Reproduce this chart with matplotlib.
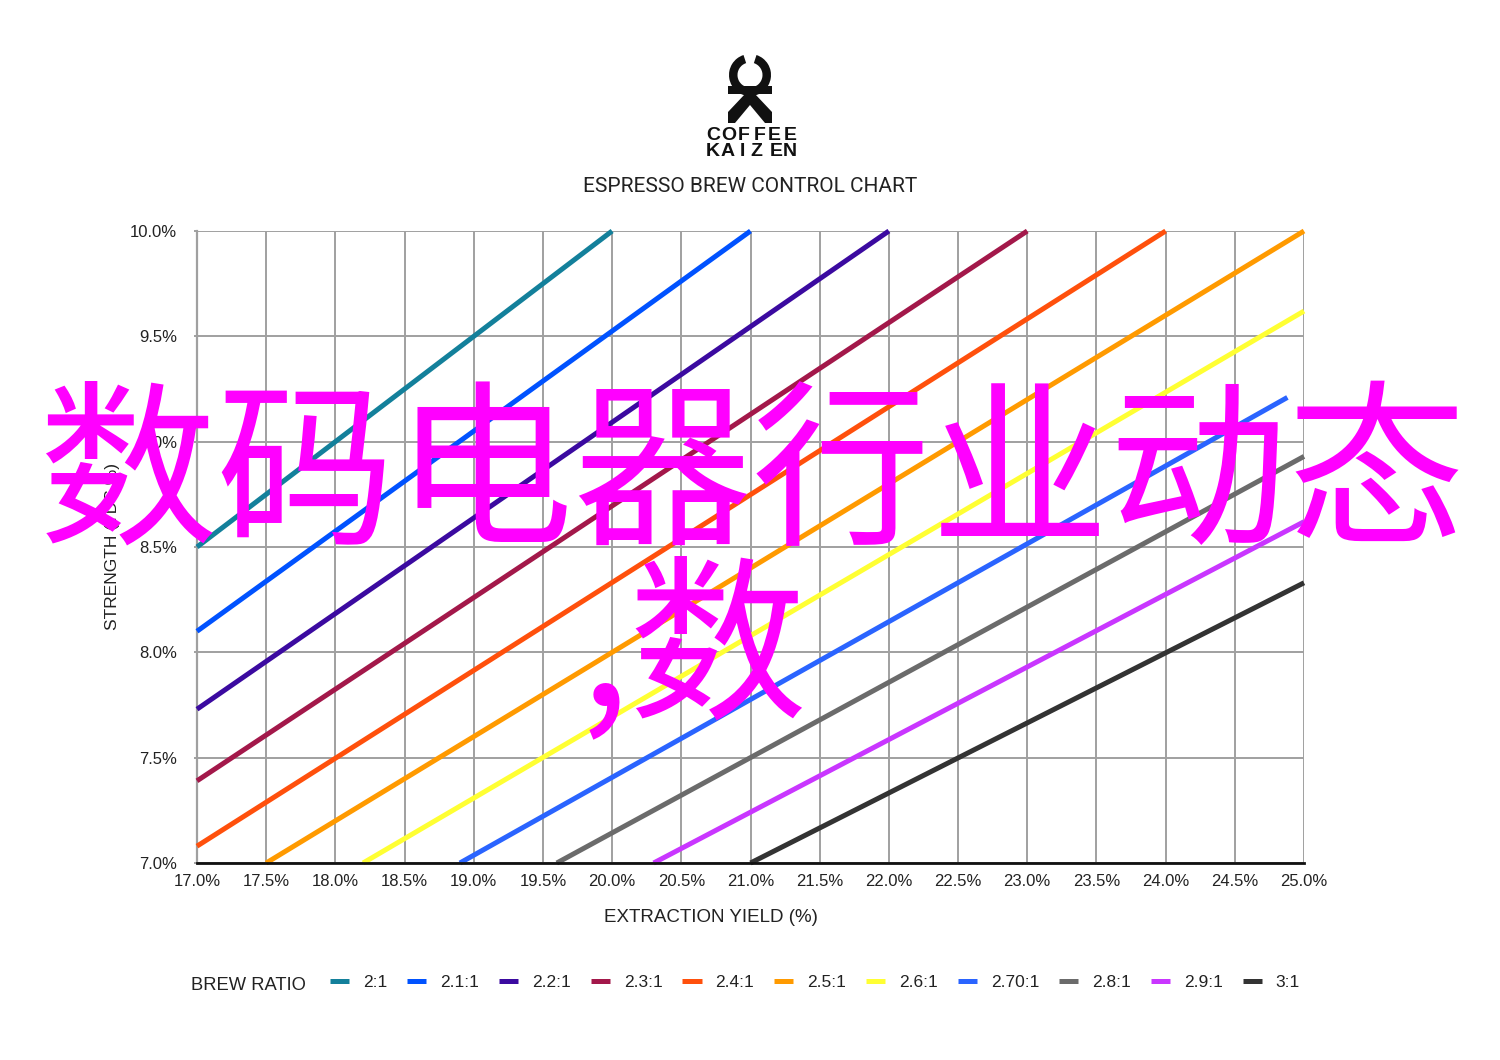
import matplotlib
matplotlib.use("Agg")
import matplotlib.pyplot as plt
from matplotlib.patches import Wedge, Rectangle, Polygon
from matplotlib.lines import Line2D

# ---------------- data ----------------
ratios = ["2:1", "2.1:1", "2.2:1", "2.3:1", "2.4:1", "2.5:1", "2.6:1", "2.70:1", "2.8:1", "2.9:1", "3:1"]
yield_start = [17.0, 17.0, 17.0, 17.0, 17.0, 17.5, 18.2, 18.9, 19.6, 20.3, 21.0]
strength_start = [8.50, 8.10, 7.73, 7.39, 7.08, 7.00, 7.00, 7.00, 7.00, 7.00, 7.00]
yield_end = [20.0, 21.0, 22.0, 23.0, 24.0, 25.0, 25.0, 24.88, 25.0, 25.0, 25.0]
strength_end = [10.0, 10.0, 10.0, 10.0, 10.0, 10.0, 9.62, 9.21, 8.93, 8.62, 8.33]
colors = ["#13809b", "#0052ff", "#3b0aa0", "#a3184a", "#ff500c", "#ff9a00",
          "#ffff33", "#2a64ff", "#6b6b6b", "#c936ff", "#333333"]
x_ticks = [17.0, 17.5, 18.0, 18.5, 19.0, 19.5, 20.0, 20.5, 21.0, 21.5, 22.0,
           22.5, 23.0, 23.5, 24.0, 24.5, 25.0]
y_ticks = [7.0, 7.5, 8.0, 8.5, 9.0, 9.5, 10.0]

title = "ESPRESSO BREW CONTROL CHART"
overlay_line1 = "数码电器行业动态"
overlay_line2 = ",数"

# ---------------- figure ----------------
W, H = 1500, 1060
fig = plt.figure(figsize=(W / 100, H / 100), dpi=100)
plt.rcParams['font.family'] = ['Liberation Sans', 'DejaVu Sans']

def fx(px):
    return px / W

def fy(py):
    return 1 - py / H

ax = fig.add_axes([fx(197), fy(863), fx(1304) - fx(197), fy(231) - fy(863)])
ax.set_xlim(17.0, 25.0)
ax.set_ylim(7.0, 10.0)

for xs, ys, xe, ye, c in zip(yield_start, strength_start, yield_end, strength_end, colors):
    ax.plot([xs, xe], [ys, ye], color=c, lw=3.6, solid_capstyle='butt', zorder=3, clip_on=False)

ax.set_xticks(x_ticks)
ax.set_yticks(y_ticks)
ax.set_xticklabels([f"{v:.1f}%" for v in x_ticks], fontsize=12, color="#222222")
ax.set_yticklabels([f"{v:.1f}%" for v in y_ticks], fontsize=12, color="#222222")
ax.grid(True, color="#a0a0a0", lw=1.4, zorder=1)
ax.set_axisbelow(True)
ax.tick_params(axis='x', length=0, pad=8)
ax.tick_params(axis='y', length=2, color="#a0a0a0", width=1.4, pad=12.5)
for s in ['top', 'right']:
    ax.spines[s].set_visible(False)
ax.spines['left'].set_color("#a0a0a0")
ax.spines['left'].set_linewidth(1.6)
ax.spines['bottom'].set_color("#111111")
ax.spines['bottom'].set_linewidth(2.0)
ax.spines['bottom'].set_zorder(4)

fig.text(fx(113), fy(547), "STRENGTH (TDS %)", fontsize=12.5, color="#222222",
         rotation=90, ha='center', va='center')
fig.text(fx(711), fy(918), "EXTRACTION YIELD (%)", fontsize=13.5, color="#222222",
         ha='center', va='center')

# ---------------- title & logo ----------------
fig.text(fx(750), fy(186), title, fontsize=15, family=['Roboto', 'DejaVu Sans'],
         color="#222222", ha='center', va='center')

lax = fig.add_axes([0, 0, 1, 1], zorder=0)
lax.set_xlim(0, W)
lax.set_ylim(H, 0)
lax.axis('off')
lax.patch.set_alpha(0)
# ring (C) with gap at top (y axis inverted: visual top = 270 deg)
lax.add_patch(Wedge((750, 75), 21, -72, 252, width=8.5,
                    facecolor="#111111", edgecolor='none'))
# bar
lax.add_patch(Rectangle((728, 86), 44, 8, facecolor="#111111", edgecolor='none'))
# K legs (inverted V)
lax.add_patch(Polygon([(745, 94), (755, 94), (772, 112), (772, 123), (765, 123), (750, 105),
                       (735, 123), (728, 123), (728, 112)], closed=True,
                      facecolor="#111111", edgecolor='none'))
for i, ch in enumerate("COFFEE"):
    lax.text(713 + i * 15.4, 136, ch, fontsize=14, fontweight='bold',
             family=['Liberation Sans', 'DejaVu Sans'], color="#111111", ha='center', va='center')
for i, ch in enumerate("KAIZEN"):
    xx = [713, 728, 742, 756, 776, 790][i]
    lax.text(xx, 151, ch, fontsize=14, fontweight='bold',
             family=['Liberation Sans', 'DejaVu Sans'], color="#111111", ha='center', va='center')

# ---------------- legend ----------------
fig.text(fx(191), fy(986), "BREW RATIO", fontsize=13.2, color="#222222", ha='left', va='center')
handles = [Line2D([0], [0], color=c, lw=3.6, solid_capstyle='butt') for c in colors]
leg = fig.legend(handles, ratios, ncol=11, loc='center left',
                 bbox_to_anchor=(fx(330), fy(982)), frameon=False, fontsize=12.5,
                 handlelength=1.1, handletextpad=0.8, columnspacing=1.15,
                 borderaxespad=0, borderpad=0)
for t in leg.get_texts():
    t.set_color("#222222")

# ---------------- overlay ----------------
cjk = ['Noto Sans CJK SC', 'DejaVu Sans']
fig.text(fx(752), fy(480), overlay_line1, fontsize=128.5, family=cjk, fontweight='medium',
         color="#ff00ff", ha='center', va='center', zorder=10)
fig.text(fx(808), fy(654), overlay_line2, fontsize=128.5, family=cjk, fontweight='medium',
         color="#ff00ff", ha='right', va='center', zorder=10)

fig.savefig("out.png", dpi=100)
